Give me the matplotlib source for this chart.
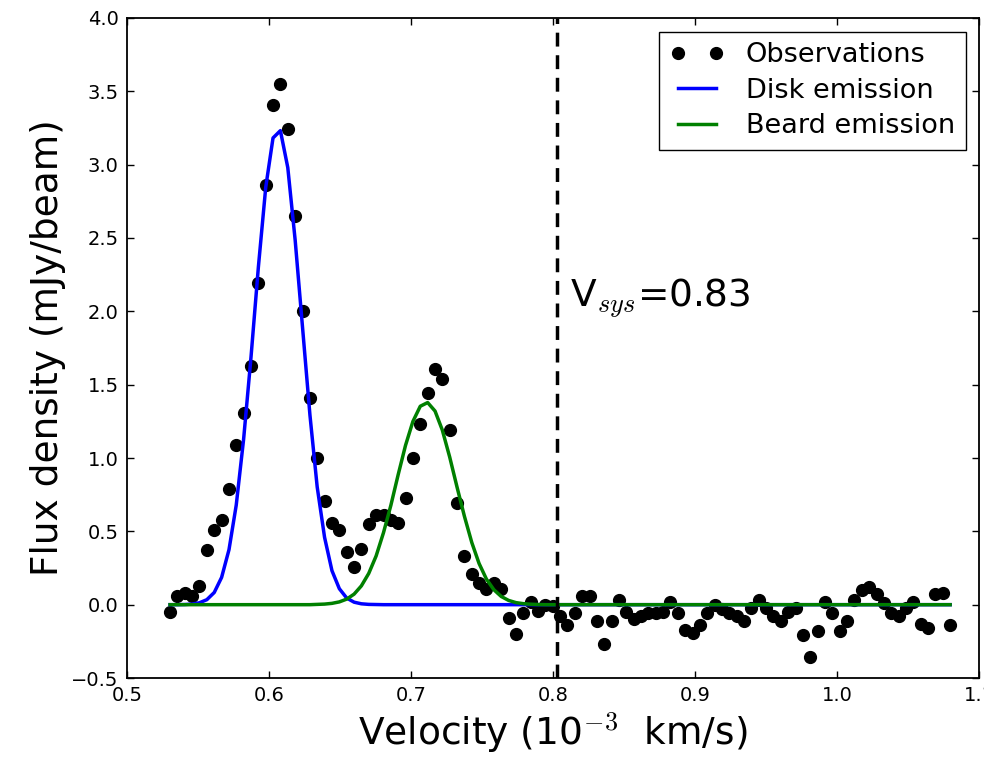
import matplotlib
matplotlib.use("Agg")
import matplotlib.pyplot as plt

# channel velocities (10^-3 km/s)
velocity = [0.5303, 0.5355, 0.5407, 0.5458, 0.5510, 0.5562, 0.5614, 0.5666, 0.5718, 0.5769,
            0.5821, 0.5873, 0.5925, 0.5977, 0.6028, 0.6080, 0.6132, 0.6184, 0.6236, 0.6288,
            0.6339, 0.6391, 0.6443, 0.6495, 0.6547, 0.6599, 0.6650, 0.6702, 0.6754, 0.6806,
            0.6858, 0.6909, 0.6961, 0.7013, 0.7065, 0.7117, 0.7169, 0.7220, 0.7272, 0.7324,
            0.7376, 0.7428, 0.7479, 0.7531, 0.7583, 0.7635, 0.7687, 0.7739, 0.7790, 0.7842,
            0.7894, 0.7946, 0.7998, 0.8049, 0.8101, 0.8153, 0.8205, 0.8257, 0.8309, 0.8360,
            0.8412, 0.8464, 0.8516, 0.8568, 0.8619, 0.8671, 0.8723, 0.8775, 0.8827, 0.8879,
            0.8930, 0.8982, 0.9034, 0.9086, 0.9138, 0.9189, 0.9241, 0.9293, 0.9345, 0.9397,
            0.9449, 0.9500, 0.9552, 0.9604, 0.9656, 0.9708, 0.9759, 0.9811, 0.9863, 0.9915,
            0.9967, 1.0019, 1.0070, 1.0122, 1.0174, 1.0226, 1.0278, 1.0329, 1.0381, 1.0433,
            1.0485, 1.0537, 1.0589, 1.0640, 1.0692, 1.0744, 1.0796]

# observed flux density (mJy/beam)
observed = [-0.05, 0.06, 0.08, 0.06, 0.13, 0.37, 0.51, 0.58, 0.79, 1.09,
            1.31, 1.63, 2.19, 2.86, 3.41, 3.55, 3.24, 2.65, 2.00, 1.41,
            1.00, 0.71, 0.56, 0.51, 0.36, 0.26, 0.38, 0.55, 0.61, 0.61,
            0.58, 0.56, 0.73, 1.00, 1.23, 1.44, 1.61, 1.54, 1.19, 0.69,
            0.33, 0.21, 0.15, 0.11, 0.15, 0.11, -0.09, -0.20, -0.06, 0.02,
            -0.04, 0.00, -0.01, -0.08, -0.14, -0.06, 0.06, 0.06, -0.11, -0.27,
            -0.11, 0.03, -0.05, -0.10, -0.08, -0.06, -0.06, -0.05, 0.02, -0.06,
            -0.17, -0.19, -0.14, -0.06, 0.00, -0.03, -0.06, -0.08, -0.11, -0.02,
            0.03, -0.02, -0.08, -0.11, -0.05, -0.02, -0.21, -0.36, -0.18, 0.02,
            -0.06, -0.18, -0.11, 0.03, 0.10, 0.12, 0.07, 0.01, -0.06, -0.08,
            -0.02, 0.02, -0.13, -0.16, 0.07, 0.08, -0.14]

# fitted disk component
disk = [0.000, 0.000, 0.001, 0.004, 0.013, 0.034, 0.083, 0.186, 0.375, 0.679,
        1.129, 1.688, 2.303, 2.848, 3.182, 3.232, 2.980, 2.485, 1.889, 1.293,
        0.803, 0.459, 0.232, 0.109, 0.045, 0.017, 0.006, 0.002, 0.001] + [0.0] * 78

# fitted beard component
beard = [0.0] * 20 + [0.002, 0.004, 0.009, 0.019, 0.038, 0.072, 0.128, 0.213, 0.332, 0.491,
                      0.678, 0.885, 1.086, 1.249, 1.353, 1.378, 1.320, 1.191, 1.007, 0.801,
                      0.602, 0.423, 0.281, 0.174, 0.102, 0.056, 0.029, 0.014, 0.007, 0.003,
                      0.001] + [0.0] * 56

v_sys_line = 0.8025
v_sys_label = "V$_{sys}$=0.83"

plt.rcParams['mathtext.fontset'] = 'cm'
plt.rcParams['font.family'] = 'DejaVu Sans'

fig = plt.figure(figsize=(9.84, 7.59), dpi=100)
ax = fig.add_axes([0.1291, 0.1067, 0.8659, 0.8696])

ax.plot(velocity, observed, 'o', color='black', markersize=8.5, label='Observations')
ax.plot(velocity, disk, '-', color='blue', linewidth=2.5, label='Disk emission')
ax.plot(velocity, beard, '-', color='green', linewidth=2.5, label='Beard emission')
ax.axvline(v_sys_line, color='black', linestyle='--', dashes=(4, 2.5), linewidth=2.5)
ax.text(0.812, 2.03, v_sys_label, fontsize=27, ha='left', va='baseline')

ax.set_xlim(0.5, 1.1)
ax.set_ylim(-0.5, 4.0)
ax.set_xticks([0.5, 0.6, 0.7, 0.8, 0.9, 1.0, 1.1])
ax.set_xticklabels(['0.5', '0.6', '0.7', '0.8', '0.9', '1.0', '1.1'])
ax.set_yticks([-0.5, 0.0, 0.5, 1.0, 1.5, 2.0, 2.5, 3.0, 3.5, 4.0])
ax.set_yticklabels(['\u22120.5', '0.0', '0.5', '1.0', '1.5', '2.0', '2.5', '3.0', '3.5', '4.0'])
ax.tick_params(direction='in', top=True, right=True, labelsize=14, length=5, width=1, pad=6)
for s in ax.spines.values():
    s.set_linewidth(1.3)

ax.set_xlabel('Velocity (10$^{-3}$  km/s)', fontsize=27)
ax.set_ylabel('Flux density (mJy/beam)', fontsize=27)

leg = ax.legend(loc='upper right', numpoints=2, fontsize=19.5, fancybox=False,
                framealpha=1, edgecolor='black', handlelength=2.0, labelspacing=0.35)
leg.get_frame().set_linewidth(1.0)

fig.savefig('out.png', dpi=100)
